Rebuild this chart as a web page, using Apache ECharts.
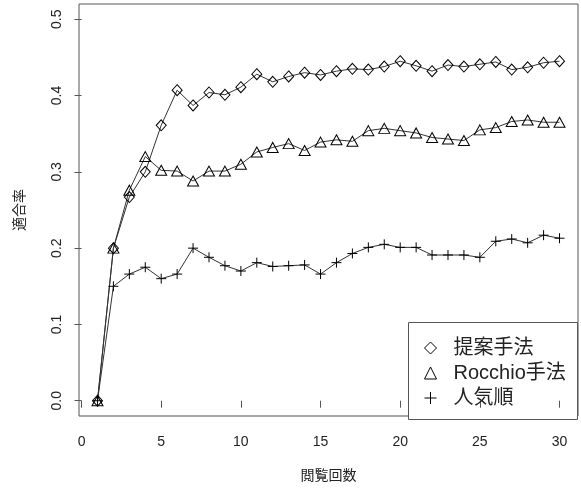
<!DOCTYPE html>
<html>
<head>
<meta charset="utf-8">
<script src="https://cdn.jsdelivr.net/npm/echarts@6/dist/echarts.min.js"></script>
<style>
  html, body { margin: 0; padding: 0; background: #fff; }
  #chart { width: 581px; height: 488px; }
</style>
</head>
<body>
<div id="chart"></div>
<script>
// 閲覧回数 (number of views)
const views = [1,2,3,4,5,6,7,8,9,10,11,12,13,14,15,16,17,18,19,20,21,22,23,24,25,26,27,28,29,30];

// 適合率 per method
const proposed = [0, 0.200, 0.267, 0.300, 0.361, 0.407, 0.387, 0.404, 0.401, 0.411,
                  0.428, 0.418, 0.425, 0.430, 0.427, 0.432, 0.435, 0.434, 0.438, 0.445,
                  0.439, 0.432, 0.440, 0.438, 0.441, 0.444, 0.434, 0.437, 0.443, 0.445];
const rocchio  = [0, 0.200, 0.276, 0.320, 0.302, 0.301, 0.288, 0.301, 0.301, 0.310,
                  0.326, 0.332, 0.337, 0.328, 0.339, 0.342, 0.340, 0.354, 0.357, 0.354,
                  0.351, 0.345, 0.343, 0.341, 0.355, 0.358, 0.366, 0.368, 0.365, 0.365];
const popular  = [0, 0.150, 0.166, 0.175, 0.160, 0.166, 0.200, 0.188, 0.177, 0.170,
                  0.181, 0.176, 0.177, 0.178, 0.166, 0.181, 0.193, 0.201, 0.205, 0.201,
                  0.201, 0.191, 0.191, 0.191, 0.188, 0.209, 0.212, 0.207, 0.217, 0.213];

const seriesNames = ['提案手法', 'Rocchio手法', '人気順'];
const xTicks = [0, 5, 10, 15, 20, 25, 30];
const yTicks = [0, 0.1, 0.2, 0.3, 0.4, 0.5];

const FONT = "'Liberation Sans', 'Noto Sans CJK JP', sans-serif";
const PLUS = 'path://M0,5L10,5M5,0L5,10';
const openMark = { color: 'rgba(0,0,0,0)', borderColor: '#000', borderWidth: 1 };

function pairs(ys) { return views.map((x, i) => [x, ys[i]]); }

function lineSeries(name, ys, symbol, size) {
  return {
    name: name,
    type: 'line',
    data: pairs(ys),
    symbol: symbol,
    symbolSize: size,
    showAllSymbol: true,
    lineStyle: { color: '#333', width: 1 },
    itemStyle: openMark,
    emphasis: { disabled: true },
    animation: false
  };
}

const chart = echarts.init(document.getElementById('chart'), null, { renderer: 'canvas' });
chart.setOption({
  backgroundColor: '#fff',
  animation: false,
  textStyle: { fontFamily: FONT },
  grid: {
    left: 79, top: 4, right: 3, bottom: 68,
    show: true, borderColor: '#555', borderWidth: 1, backgroundColor: 'transparent'
  },
  xAxis: {
    type: 'value',
    min: -0.16, max: 31.16,
    name: '閲覧回数',
    nameLocation: 'middle',
    nameGap: 53,
    nameTextStyle: { fontSize: 14, color: '#222', fontFamily: FONT },
    axisLine: { show: false },
    splitLine: { show: false },
    axisTick: { show: true, length: 7, lineStyle: { color: '#555' }, customValues: xTicks },
    axisLabel: { fontSize: 14, color: '#222', margin: 19, customValues: xTicks, fontFamily: FONT }
  },
  yAxis: {
    type: 'value',
    min: -0.02, max: 0.52,
    name: '適合率',
    nameLocation: 'middle',
    nameGap: 52,
    nameRotate: 90,
    nameTextStyle: { fontSize: 14, color: '#222', fontFamily: FONT },
    axisLine: { show: false },
    splitLine: { show: false },
    axisTick: { show: true, length: 7, lineStyle: { color: '#555' }, customValues: yTicks },
    axisLabel: {
      fontSize: 14, color: '#222', margin: 15, rotate: 90, fontFamily: FONT,
      customValues: yTicks,
      formatter: v => v.toFixed(1)
    }
  },
  legend: {
    orient: 'vertical',
    left: 419, top: 333,
    itemWidth: 12, itemHeight: 12,
    itemGap: 5,
    selectedMode: false,
    textStyle: { fontSize: 20, color: '#222', fontFamily: FONT, padding: [0, 0, 0, 12], lineHeight: 20 },
    data: [
      { name: seriesNames[0], icon: 'diamond', itemStyle: openMark },
      { name: seriesNames[1], icon: 'triangle', itemStyle: openMark },
      { name: seriesNames[2], icon: PLUS, itemStyle: openMark }
    ]
  },
  graphic: [{
    type: 'rect',
    z: 0,
    shape: { x: 408.5, y: 322.5, width: 169, height: 97 },
    style: { fill: '#fff', stroke: '#555', lineWidth: 1 }
  }],
  series: [
    lineSeries(seriesNames[0], proposed, 'diamond', [10, 11]),
    lineSeries(seriesNames[1], rocchio, 'triangle', [11, 10]),
    lineSeries(seriesNames[2], popular, PLUS, 10)
  ]
});
</script>
</body>
</html>
